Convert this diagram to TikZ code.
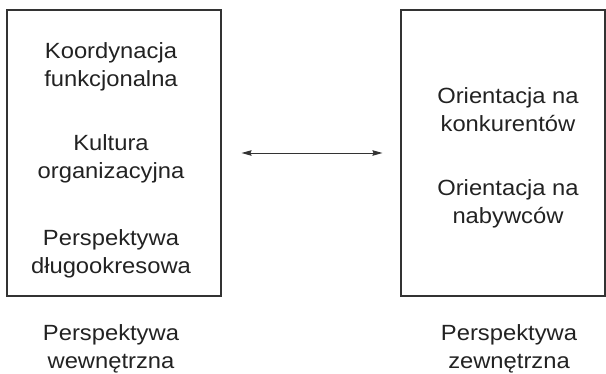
\documentclass[tikz,border=0pt]{standalone}
\usepackage{fontspec}
\setmainfont{Liberation Sans}[FakeStretch=1.08]
\usetikzlibrary{arrows.meta}
\definecolor{ink}{HTML}{222222}
\definecolor{edge}{HTML}{333333}
\tikzset{
  panel/.style={draw=edge, line width=1.1pt, rectangle, inner sep=0pt},
  lbl/.style={text=ink, align=center, anchor=base, inner sep=0pt,
    font=\fontsize{22pt}{28pt}\selectfont},
  link/.style={draw=edge, line width=0.9pt,
    {Stealth[length=10pt,width=5.5pt,inset=1pt]}-{Stealth[length=10pt,width=5.5pt,inset=1pt]}}
}
\begin{document}
\begin{tikzpicture}[x=1pt,y=-1pt]
\useasboundingbox (0,0) rectangle (606,374);
\node[panel, minimum width=214pt, minimum height=286pt] (L) at (114,153) {};
\node[panel, minimum width=204pt, minimum height=286pt] (R) at (503,153) {};
\node[lbl] (l1) at (111,86.5) {Koordynacja\\funkcjonalna};
\node[lbl] (l2) at (111,179) {Kultura\\organizacyjna};
\node[lbl] (l3) at (111,274) {Perspektywa\\długookresowa};
\node[lbl] (r1) at (508,132) {Orientacja na\\konkurentów};
\node[lbl] (r2) at (508,224) {Orientacja na\\nabywców};
\node[lbl] (bl) at (111,369) {Perspektywa\\wewnętrzna};
\node[lbl] (br) at (509,369) {Perspektywa\\zewnętrzna};
\draw[link, shorten <=20pt, shorten >=18pt] (L) -- (R);
\end{tikzpicture}
\end{document}
